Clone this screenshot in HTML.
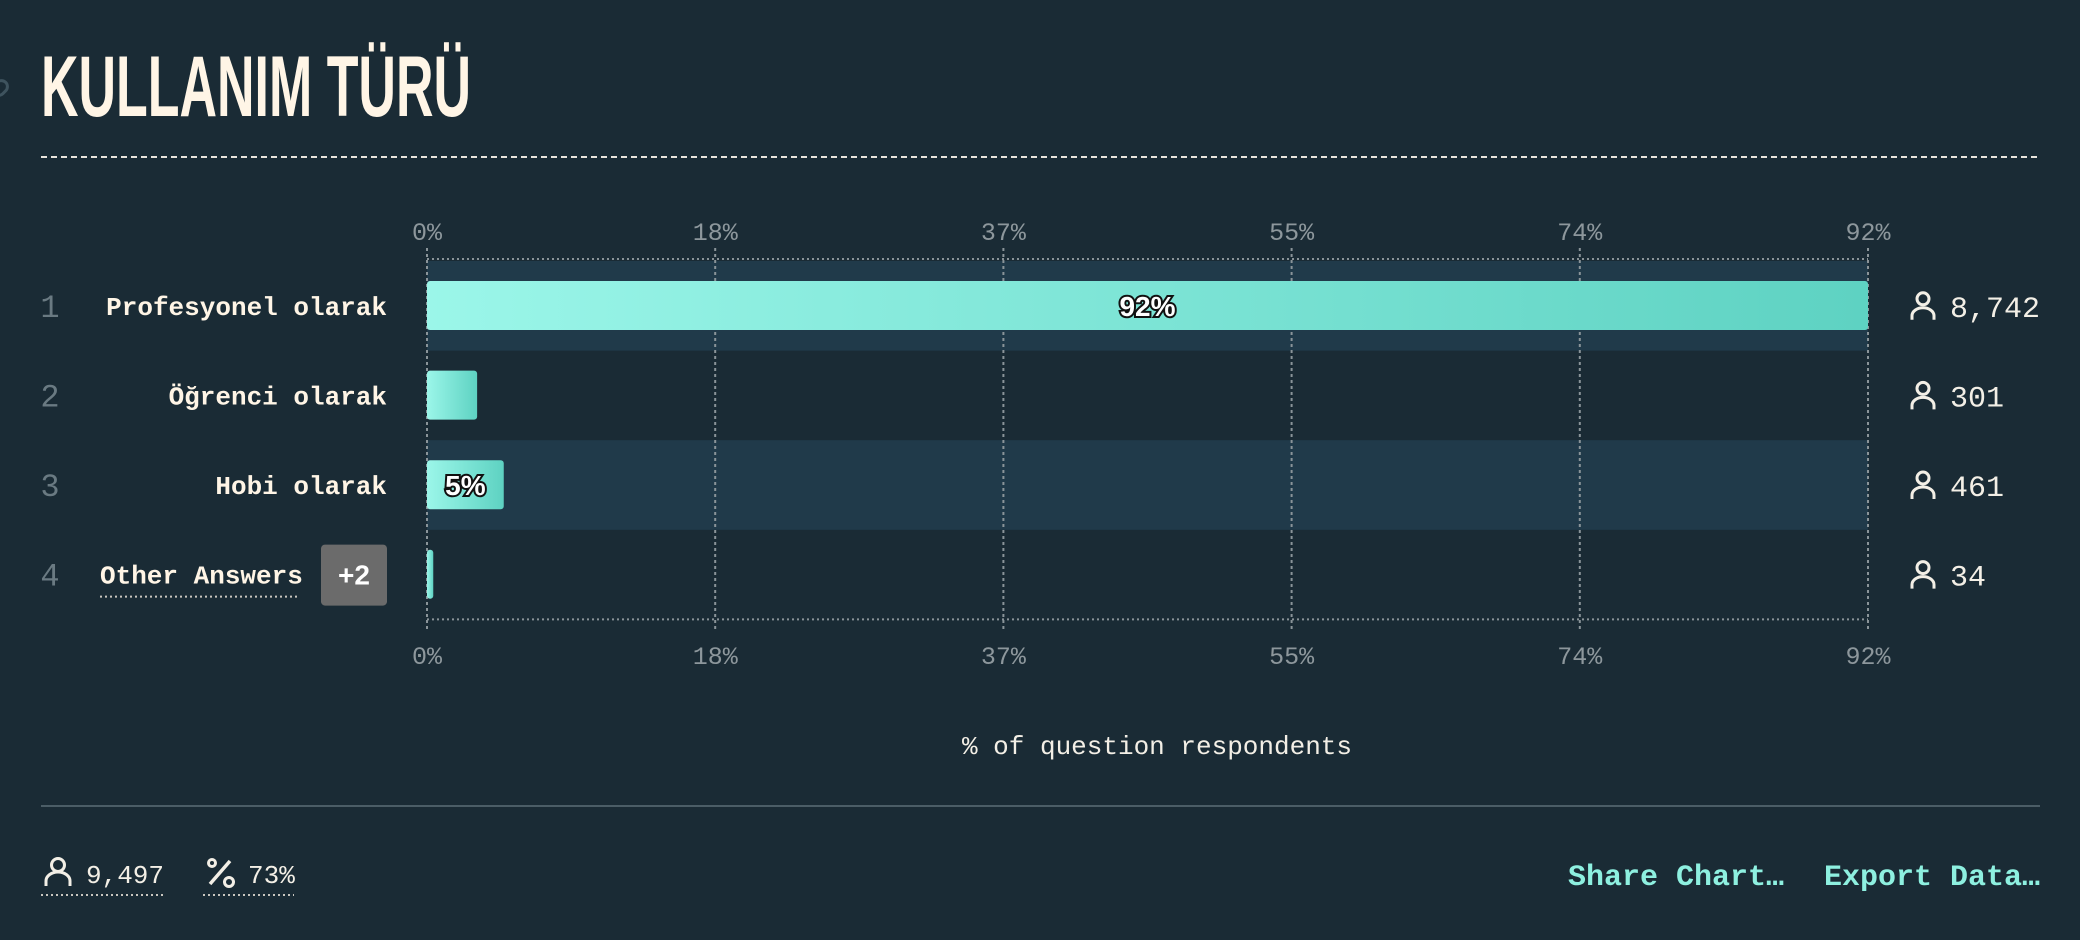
<!DOCTYPE html>
<html><head><meta charset="utf-8">
<style>
html,body{margin:0;padding:0;background:#1a2b35;width:2080px;height:940px;overflow:hidden}
svg{display:block}
.mono{font-family:"Liberation Mono","DejaVu Sans Mono",monospace}
</style></head>
<body>
<svg id="chart" width="2080" height="940" viewBox="0 0 2080 940" xmlns="http://www.w3.org/2000/svg">
<defs>
<linearGradient id="barGrad" x1="0" y1="0" x2="1" y2="0">
<stop offset="0" stop-color="#9bf6e9"/><stop offset="1" stop-color="#5ed2c2"/>
</linearGradient>
</defs>
<g transform="translate(0,88) rotate(-45)" fill="none" stroke="#3e535e" stroke-width="3">
<rect x="-8" y="-6" width="16" height="12" rx="6"/>
</g>
<text x="41" y="116" font-family="Liberation Sans, sans-serif" font-weight="bold" font-size="86" fill="#fff5e6" textLength="430" lengthAdjust="spacingAndGlyphs">KULLANIM TÜRÜ</text>
<line x1="41" y1="157" x2="2040" y2="157" stroke="#e8e4dc" stroke-width="2" stroke-dasharray="6,4"/>
<g id="plot"></g>
<text class="mono" x="1157" y="754" font-size="26" fill="#f3efe6" text-anchor="middle">% of question respondents</text>
<line x1="41" y1="806" x2="2040" y2="806" stroke="#4b5d66" stroke-width="2"/>
<g>
<circle cx="58" cy="865" r="6.5" fill="none" stroke="#f3efe6" stroke-width="3"/>
<path d="M46 886 v-5 a12 9 0 0 1 24 0 v5" fill="none" stroke="#f3efe6" stroke-width="3"/>
<text class="mono" x="86" y="883" font-size="26" fill="#f3efe6">9,497</text>
<line x1="41" y1="895" x2="163" y2="895" stroke="#c9c6bf" stroke-width="2" stroke-dasharray="2,3"/>
</g>
<g>
<line x1="210" y1="884" x2="230" y2="861" stroke="#f3efe6" stroke-width="3.5"/>
<circle cx="212" cy="863" r="3.5" fill="none" stroke="#f3efe6" stroke-width="3"/>
<circle cx="229" cy="882" r="4.5" fill="none" stroke="#f3efe6" stroke-width="3"/>
<text class="mono" x="248" y="883" font-size="26" fill="#f3efe6">73%</text>
<line x1="203" y1="895" x2="294" y2="895" stroke="#c9c6bf" stroke-width="2" stroke-dasharray="2,3"/>
</g>
<text class="mono" x="1568" y="885" font-size="30" font-weight="bold" fill="#8ef0e0" textLength="216" lengthAdjust="spacingAndGlyphs">Share Chart…</text>
<text class="mono" x="1824" y="885" font-size="30" font-weight="bold" fill="#8ef0e0" textLength="216" lengthAdjust="spacingAndGlyphs">Export Data…</text>
</svg>
<script>
const categories = ["Profesyonel olarak","Öğrenci olarak","Hobi olarak","Other Answers"];
const percentValues = [92, 3.2, 4.9, 0.4];
const counts = ["8,742","301","461","34"];
const barLabels = ["92%","","5%",""];
const tickValues = [0, 18.4, 36.8, 55.2, 73.6, 92];
const tickLabels = ["0%","18%","37%","55%","74%","92%"];
const xMax = 92;

const NS = "http://www.w3.org/2000/svg";
const plot = document.getElementById("plot");
const X0 = 427, X1 = 1868, TOP = 261, ROWH = 89.6;
function xScale(v){ return X0 + (v / xMax) * (X1 - X0); }
function rowY(i){ return TOP + i * ROWH; }
function mk(tag, attrs, parent){
  const e = document.createElementNS(NS, tag);
  for (const k in attrs) e.setAttribute(k, attrs[k]);
  (parent || plot).appendChild(e);
  return e;
}
const bottom = rowY(categories.length);
// row bands
categories.forEach((c, i) => {
  if (i % 2 === 0) {
    const b = mk("rect", {x: X0, y: rowY(i), width: X1 - X0, height: ROWH, fill: "#203a4a"});
    
    
  }
});
// grid + ticks
mk("line", {x1: X0, y1: 259, x2: X1, y2: 259, stroke: "#8a9499", "stroke-width": 2, "stroke-dasharray": "2,3"});
mk("line", {x1: X0, y1: bottom, x2: X1, y2: bottom, stroke: "#8a9499", "stroke-width": 2, "stroke-dasharray": "2,3"});
tickValues.forEach((v, i) => {
  const x = xScale(v);
  const g = mk("line", {x1: x, y1: 248, x2: x, y2: bottom + 10, stroke: "#8a9499", "stroke-width": 2, "stroke-dasharray": "3,3"});
  
  
  const t1 = mk("text", {x: x, y: 240, "font-size": 25, fill: "#8d979c", "text-anchor": "middle", class: "mono"});
  t1.textContent = tickLabels[i];
  
  
  const t2 = mk("text", {x: x, y: 664, "font-size": 25, fill: "#8d979c", "text-anchor": "middle", class: "mono"});
  t2.textContent = tickLabels[i];
  
  
});
// rows
categories.forEach((c, i) => {
  const cy = rowY(i) + ROWH / 2;
  const num = mk("text", {x: 50, y: cy + 11, "font-size": 32, fill: "#6a7a82", "text-anchor": "middle", class: "mono"});
  num.textContent = String(i + 1);
  
  
  const isOther = i === categories.length - 1;
  const lab = mk("text", {x: isOther ? 100 : 387, y: cy + 9, "font-size": 26, "font-weight": "bold", fill: "#fff5e6", "text-anchor": isOther ? "start" : "end", class: "mono"});
  lab.textContent = c;
  
  
  if (isOther) {
    const u = mk("line", {x1: 100, y1: cy + 22, x2: 300, y2: cy + 22, stroke: "#c9c6bf", "stroke-width": 2, "stroke-dasharray": "2,3"});
    
    
    const bx = mk("rect", {x: 321, y: cy - 30, width: 66, height: 61, rx: 4, fill: "#6b6b6b"});
    
    
    const bt = mk("text", {x: 354, y: cy + 10, "font-size": 28, "font-weight": "bold", fill: "#ffffff", "text-anchor": "middle", "font-family": "Liberation Sans, sans-serif"});
    bt.textContent = "+2";
    
    
  }
  const w = Math.max(xScale(percentValues[i]) - X0, 5);
  const bar = mk("rect", {x: X0, y: rowY(i) + 20, width: w, height: 49, rx: 3, fill: "url(#barGrad)"});
  
  
  if (barLabels[i]) {
    const bl = mk("text", {x: X0 + w / 2, y: cy + 10, "font-size": 28, "font-weight": "bold", fill: "#ffffff", stroke: "#111", "stroke-width": 4, "paint-order": "stroke", "text-anchor": "middle", "font-family": "Liberation Sans, sans-serif"});
    bl.textContent = barLabels[i];
    
    
  }
  const ic = mk("g", {transform: "translate(1912," + (cy - 14) + ")"});
  
  
  mk("circle", {cx: 11, cy: 7, r: 6, fill: "none", stroke: "#f3efe6", "stroke-width": 3}, ic);
  mk("path", {d: "M0 28 v-4 a11 8 0 0 1 22 0 v4", fill: "none", stroke: "#f3efe6", "stroke-width": 3}, ic);
  const ct = mk("text", {x: 1950, y: cy + 11, "font-size": 30, fill: "#f3efe6", class: "mono"});
  ct.textContent = counts[i];
  
  
});
</script>
</body></html>
